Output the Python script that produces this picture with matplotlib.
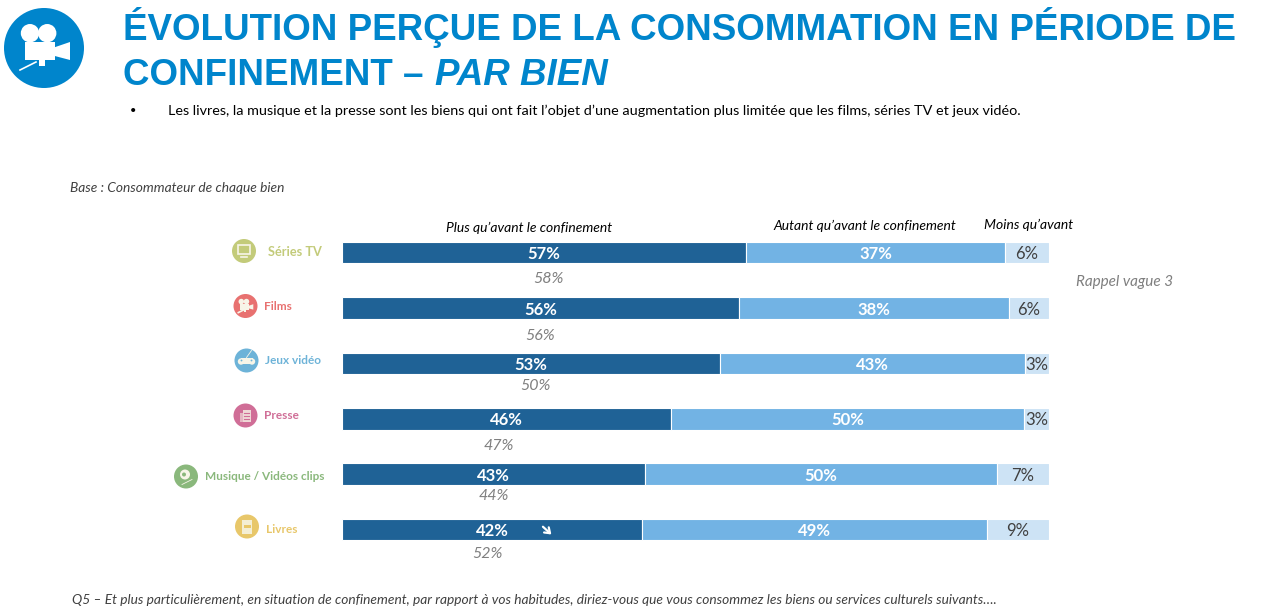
import matplotlib
matplotlib.use('Agg')
import matplotlib.pyplot as plt
from matplotlib.patches import Circle, Rectangle, Polygon

# values
categories = ['Séries TV', 'Films', 'Jeux vidéo', 'Presse', 'Musique / Vidéos clips', 'Livres']
plus = [57, 56, 53, 46, 43, 42]
autant = [37, 38, 43, 50, 50, 49]
moins = [6, 6, 3, 3, 7, 9]
rappel = [58, 56, 50, 47, 44, 52]

# the bars follow the unrounded figures
plus_w = [57.1, 56.1, 53.4, 46.5, 42.8, 42.4]
autant_w = [36.7, 38.2, 43.2, 50.0, 49.8, 48.8]
moins_w = [6.2, 5.7, 3.4, 3.5, 7.4, 8.8]

# rappel labels are placed by hand on the slide, offsets from the bar centre
rappel_dx = [0.7, 0, 0.7, -1.1, 0, -0.6]
rappel_dy = [0.47, 0.51, 0.41, 0.5, 0.4, 0.45]

icon_colors = ['#C3CB7A', '#E87170', '#6DB3D8', '#D06E97', '#8AB87C', '#E8C76A']
icon_pos = [(244, 251), (245.5, 306), (246.5, 360.5), (245.5, 415.5), (186, 476.5), (247, 526.5)]
label_x = [268, 264, 265, 264, 205, 266]
label_y = [252.5, 306.5, 360.5, 415.5, 476.5, 529.5]

DARK = '#1F6296'
MID = '#72B3E4'
LIGHT = '#CDE3F5'
BLUE = '#0085CC'

W, H = 1262, 612
fig = plt.figure(figsize=(W / 100, H / 100), dpi=100)

# overlay in pixel coordinates for the slide furniture
bg = fig.add_axes([0, 0, 1, 1])
bg.set_xlim(0, W)
bg.set_ylim(H, 0)
bg.axis('off')

# bars axes, 343-1049 px wide, rows 55.35 px apart
row = 55.35
top = 252.7 - row / 2
bottom = 529.5 + row / 2
ax = fig.add_axes([342.2 / W, 1 - bottom / H, (1049 - 342.2) / W, (bottom - top) / H])
ax.patch.set_alpha(0)
y = list(range(len(categories)))

left3 = [a + b for a, b in zip(plus_w, autant_w)]

ax.barh(y, plus_w, height=0.39, color=DARK, edgecolor='white', linewidth=0.8)
ax.barh(y, autant_w, left=plus_w, height=0.39, color=MID, edgecolor='white', linewidth=0.8)
ax.barh(y, moins_w, left=left3, height=0.39, color=LIGHT, edgecolor='white', linewidth=0.8)
ax.set_xlim(0, 100)
ax.set_ylim(len(categories) - 0.5, -0.5)
ax.axis('off')

for i in y:
    ax.text(plus_w[i] / 2, i + 0.03, f'{plus[i]}%', color='white', fontsize=12, fontweight='bold',
            family='Lato', ha='center', va='center')
    ax.text(plus_w[i] + autant_w[i] / 2, i + 0.03, f'{autant[i]}%', color='white', fontsize=12,
            fontweight='bold', family='Lato', ha='center', va='center')
    ax.text(left3[i] + moins_w[i] / 2, i + 0.03, f'{moins[i]}%', color='#404040', fontsize=12,
            family='Lato', ha='center', va='center')
    ax.text(plus_w[i] / 2 + rappel_dx[i], i + rappel_dy[i], f'{rappel[i]}%', color='#7F7F7F',
            fontsize=11.5, style='italic', family='Lato', ha='center', va='center')

# down arrow on the Livres row
ax.annotate('', xy=(29.6, 5.09), xytext=(28.4, 4.95),
            arrowprops=dict(arrowstyle='->,head_length=0.35,head_width=0.25', color='white',
                            lw=1.6, mutation_scale=10, shrinkA=0, shrinkB=0))


def camera(a, cx, cy, s, color='white'):
    # little movie camera, s is the size of the circle radius
    a.add_patch(Circle((cx - 0.35 * s, cy - 0.37 * s), 0.23 * s, color=color, lw=0))
    a.add_patch(Circle((cx + 0.08 * s, cy - 0.37 * s), 0.23 * s, color=color, lw=0))
    a.add_patch(Rectangle((cx - 0.48 * s, cy - 0.15 * s), 0.75 * s, 0.45 * s, color=color, lw=0))
    a.add_patch(Polygon([(cx + 0.27 * s, cy - 0.02 * s), (cx + 0.65 * s, cy - 0.15 * s),
                         (cx + 0.65 * s, cy + 0.3 * s), (cx + 0.27 * s, cy + 0.2 * s)],
                        color=color, lw=0))
    a.add_patch(Rectangle((cx - 0.12 * s, cy + 0.3 * s), 0.14 * s, 0.16 * s, color=color, lw=0))
    a.plot([cx - 0.6 * s, cx - 0.2 * s], [cy + 0.55 * s, cy + 0.35 * s], color=color, lw=1.2)


def draw_icon(a, i, cx, cy):
    r = 12
    c = icon_colors[i]
    a.add_patch(Circle((cx, cy), r, color=c, lw=0))
    w = '#F7F5E8'
    if i == 0:  # tv
        a.add_patch(Rectangle((cx - 6, cy - 6), 12, 9, fc='none', ec=w, lw=1.2))
        a.plot([cx - 3, cx + 3], [cy + 5.5, cy + 5.5], color=w, lw=1.2)
    elif i == 1:
        camera(a, cx, cy, r, w)
    elif i == 2:  # gamepad
        a.add_patch(Rectangle((cx - 6, cy - 3), 12, 6, color=w, lw=0))
        a.add_patch(Circle((cx - 5.5, cy + 1), 3.2, color=w, lw=0))
        a.add_patch(Circle((cx + 5.5, cy + 1), 3.2, color=w, lw=0))
        a.add_patch(Circle((cx - 5, cy), 0.9, color=c, lw=0))
        a.add_patch(Circle((cx + 5, cy), 0.9, color=c, lw=0))
        a.plot([cx, cx + 5], [cy - 3, cy - 10], color=w, lw=0.6)
    elif i == 3:  # newspaper
        a.add_patch(Rectangle((cx - 3, cy - 6), 8, 12, fc=w, ec='none', alpha=0.8))
        a.add_patch(Rectangle((cx - 6, cy - 3), 3, 9, fc=w, ec='none', alpha=0.55))
        for dy in (-3, 0, 3):
            a.plot([cx - 1.5, cx + 3.5], [cy + dy, cy + dy], color=c, lw=0.8)
    elif i == 4:  # disc
        a.add_patch(Circle((cx - 1, cy - 2), 5, color=w, lw=0))
        a.add_patch(Circle((cx - 2, cy - 2), 2, color=c, lw=0))
        a.plot([cx - 4, cx + 6], [cy + 8, cy + 3], color=w, lw=0.6)
    else:  # book
        a.add_patch(Rectangle((cx - 5, cy - 7), 10, 14, fc=w, ec='none', alpha=0.85))
        a.add_patch(Rectangle((cx - 3.5, cy - 2), 7, 3, fc=c, ec='none'))


# header
bg.add_patch(Circle((44, 48), 40, color=BLUE, lw=0))
camera(bg, 44, 48, 40)
title_kw = dict(color=BLUE, fontsize=26.5, fontweight='bold', family='Liberation Sans', va='baseline')
bg.text(123, 40, 'ÉVOLUTION PERÇUE DE LA CONSOMMATION EN PÉRIODE DE', **title_kw)
t = bg.text(123, 85, 'CONFINEMENT – ', **title_kw)
fig.canvas.draw()
bb = t.get_window_extent()
bg.text(bb.x1 + 1, 85, 'PAR BIEN', style='italic', **title_kw)

body = dict(family='Lato', va='center')
bg.text(130, 111, '•', fontsize=8, color='black', **body)
bg.text(168, 111, 'Les livres, la musique et la presse sont les biens qui ont fait l’objet d’une '
        'augmentation plus limitée que les films, séries TV et jeux vidéo.',
        fontsize=10.38, color='black', **body)
bg.text(70, 187.5, 'Base : Consommateur de chaque bien', fontsize=9.9, style='italic', color='#404040', **body)

# column headers
bg.text(446, 228, 'Plus qu’avant le confinement', fontsize=10, style='italic', color='black', **body)
bg.text(773, 226, 'Autant qu’avant le confinement', fontsize=10, style='italic', color='black', **body)
bg.text(984, 225, 'Moins qu’avant', fontsize=10, style='italic', color='black', **body)
bg.text(1076, 282, 'Rappel vague 3', fontsize=11, style='italic', color='#7F7F7F', **body)

for i, name in enumerate(categories):
    draw_icon(bg, i, *icon_pos[i])
    bg.text(label_x[i], label_y[i], name, color=icon_colors[i], fontweight='bold',
            fontsize=9.2 if i == 0 else 8.5, **body)

bg.text(72, 600.5, 'Q5 – Et plus particulièrement, en situation de confinement, par rapport à vos habitudes, '
        'diriez-vous que vous consommez les biens ou services culturels suivants….',
        fontsize=9.86, style='italic', color='#404040', **body)

fig.savefig('out.png', dpi=100)
